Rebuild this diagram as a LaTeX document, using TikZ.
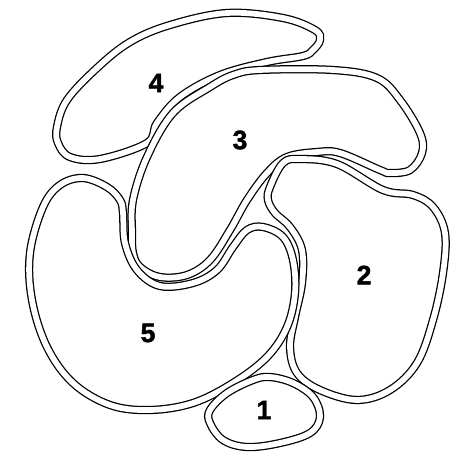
\documentclass[tikz,border=0pt]{standalone}
\usepackage{fontspec}
\setmainfont{Liberation Sans}
\newfontfamily\numfont[BoldFeatures={FakeBold=1.6}]{Liberation Sans}
\usepackage{tikz}

\begin{document}
\begin{tikzpicture}[x=0.75pt, y=-0.75pt,
  region/.style={draw, double, line width=0.95pt, double distance=4.3pt},
  num/.style={font=\numfont\fontsize{20}{20}\selectfont\bfseries}]
\useasboundingbox (0,0) rectangle (470,457);
% region 4
\draw[region] plot[smooth cycle, tension=0.6] coordinates {(57,127) (67,100) (97,68) (130,42) (170,25) (227,13) (283,18) (315,30) (320,40) (313,50) (303,56) (267,62) (220,75) (180,97) (157,123) (147,143) (100,159) (70,157) (58,143)};
% region 3
\draw[region] plot[smooth cycle, tension=0.6] coordinates {(260,70) (333,70) (377,78) (400,100) (420,133) (422,153) (410,170) (390,173) (380,170) (340,153) (317,152) (287,157) (267,173) (247,200) (230,230) (210,260) (187,275) (160,277) (140,267) (133,253) (132,233) (133,200) (147,157) (173,113) (210,87) (233,75)};
% region 2
\draw[region] plot[smooth cycle, tension=0.6] coordinates {(270,187) (283,163) (300,159) (337,164) (383,190) (413,195) (433,207) (445,233) (443,273) (433,320) (417,363) (390,390) (357,400) (320,390) (297,373) (290,347) (295,317) (302,283) (302,250) (290,227) (275,213) (268,200)};
% region 5
\draw[region] plot[smooth cycle, tension=0.6] coordinates {(123,213) (125,243) (137,270) (160,286) (193,283) (217,270) (233,247) (247,230) (263,227) (283,237) (293,260) (295,293) (287,327) (267,357) (233,383) (193,403) (150,410) (110,405) (73,383) (47,347) (32,300) (30,253) (43,207) (60,185) (83,178) (107,187) (120,200)};
% region 1
\draw[region] plot[smooth cycle, tension=0.6] coordinates {(210,410) (227,393) (253,380) (270,377) (293,383) (313,397) (320,417) (310,433) (280,443) (247,447) (223,440) (210,423)};
\node[num] (n1) at (264,410) {1};
\node[num] (n2) at (364,275) {2};
\node[num] (n3) at (240,140) {3};
\node[num] (n4) at (156,83) {4};
\node[num] (n5) at (148,333) {5};
\end{tikzpicture}
\end{document}
